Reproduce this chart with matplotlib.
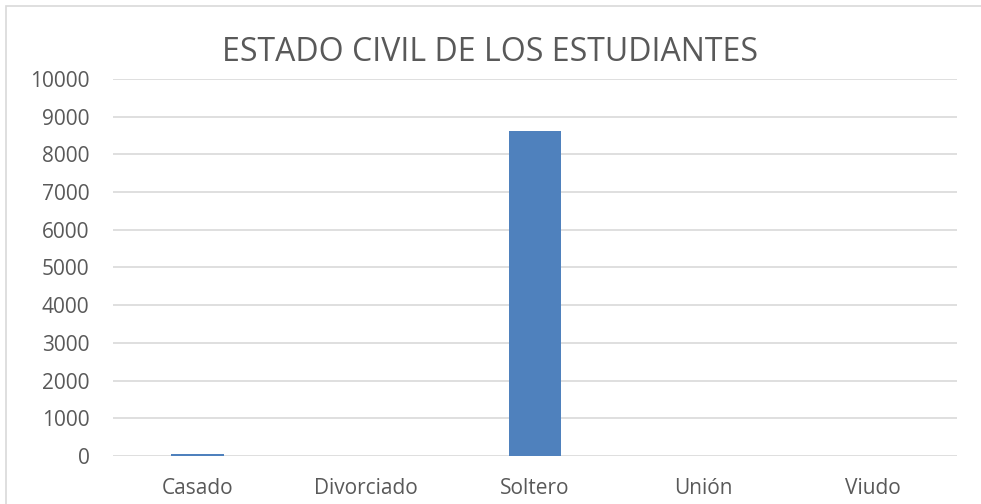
import matplotlib.pyplot as plt
from matplotlib.patches import Rectangle

# data
categorias = ["Casado", "Divorciado", "Soltero", "Unión", "Viudo"]
estudiantes = [60, 3, 8610, 8, 2]
y_ticks = list(range(0, 10001, 1000))

plt.rcParams["font.family"] = ["Open Sans", "DejaVu Sans"]

fig = plt.figure(figsize=(9.81, 5.04), dpi=100)
ax = fig.add_axes([0.1152, 0.0952, 0.8603, 0.7481])

ax.bar(range(len(categorias)), estudiantes, width=0.31, color="#4F81BD", zorder=3)

ax.set_xlim(-0.5, len(categorias) - 0.5)
ax.set_ylim(0, 10000)
ax.set_yticks(y_ticks)
ax.set_xticks(range(len(categorias)))
ax.set_xticklabels(categorias)
ax.tick_params(axis="both", length=0, labelsize=15, colors="#595959")
ax.tick_params(axis="y", pad=17)
ax.tick_params(axis="x", pad=16)
ax.grid(axis="y", color="#D9D9D9", linewidth=1.2, zorder=0)
for s in ax.spines.values():
    s.set_visible(False)

fig.text(0.5, 0.895, "ESTADO CIVIL DE LOS ESTUDIANTES", ha="center", va="center",
         fontsize=23, color="#595959")

# outer chart frame
fig.patches.append(Rectangle((0.006, -0.01), 1.1, 0.998, transform=fig.transFigure,
                             fill=False, edgecolor="#D9D9D9", linewidth=1.2))

fig.savefig("out.png", dpi=100)
